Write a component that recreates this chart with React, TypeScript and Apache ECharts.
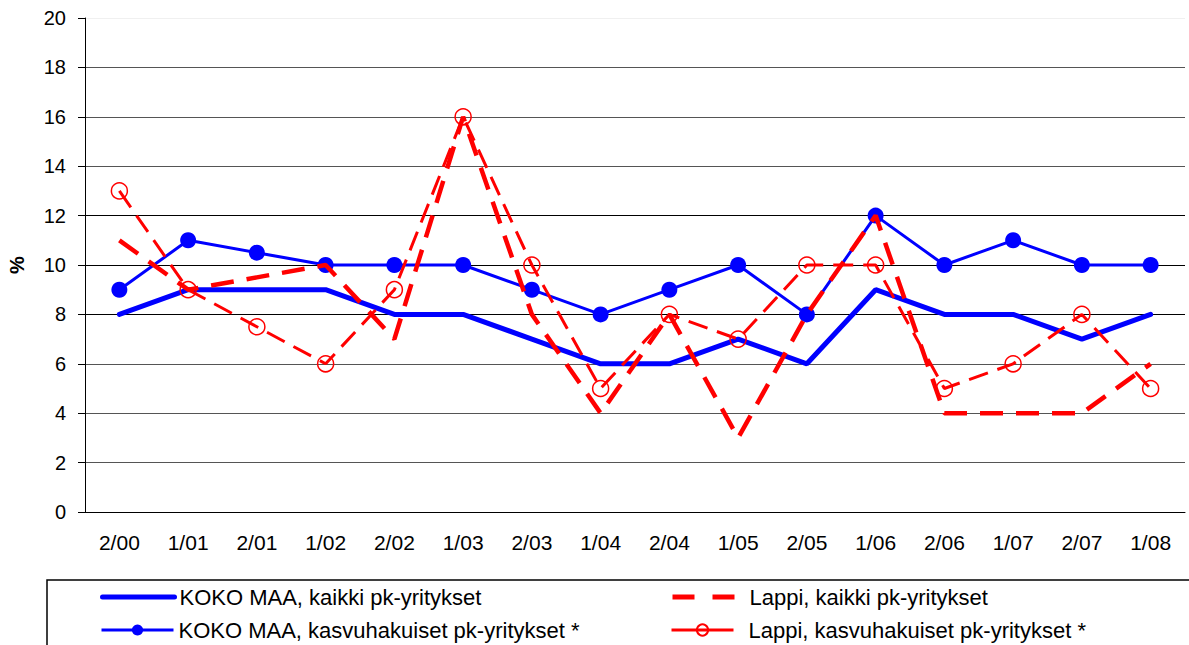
import React, { useEffect, useRef } from "react";
import * as echarts from "echarts";

const categories = ["2/00", "1/01", "2/01", "1/02", "2/02", "1/03", "2/03", "1/04", "2/04", "1/05", "2/05", "1/06", "2/06", "1/07", "2/07", "1/08"];
const kokoKaikki = [8, 9, 9, 9, 8, 8, 7, 6, 6, 7, 6, 9, 8, 8, 7, 8];
const kokoKasvu = [9, 11, 10.5, 10, 10, 10, 9, 8, 9, 10, 8, 12, 10, 11, 10, 10];
const lappiKaikki = [11, 9, 9.5, 10, 7, 16, 8, 4, 8, 3, 8, 12, 4, 4, 4, 6];
const lappiKasvu = [13, 9, 7.5, 6, 9, 16, 10, 5, 8, 7, 10, 10, 5, 6, 8, 5];
const names = [
  "KOKO MAA, kaikki pk-yritykset",
  "KOKO MAA, kasvuhakuiset pk-yritykset *",
  "Lappi, kaikki pk-yritykset",
  "Lappi, kasvuhakuiset pk-yritykset *",
];

const FONT = "Liberation Sans, Arial, sans-serif";

export default function App() {
  const ref = useRef<HTMLDivElement>(null);
  useEffect(() => {
    if (!ref.current) return;
    const chart = echarts.init(ref.current, null, { renderer: "svg" });
    const legendText = { fontSize: 22, color: "#000", fontFamily: FONT };
    const hidden = { color: "rgba(0,0,0,0)", borderWidth: 0, opacity: 0 };
    const mkLegend = (
      name: string,
      left: number,
      top: number,
      width: number,
      gap: number,
      noSymbol: boolean,
      lineStyle: any
    ) => ({
      data: [noSymbol ? { name, itemStyle: hidden, lineStyle } : { name, lineStyle }],
      orient: "horizontal",
      left,
      top,
      itemWidth: width,
      itemHeight: 14,
      itemGap: 4,
      padding: 0,
      textStyle: { ...legendText, padding: [0, 0, 0, gap - 5] },
      selectedMode: false,
    });
    chart.setOption({
      animation: false,
      backgroundColor: "#fff",
      textStyle: { fontFamily: FONT },
      grid: { left: 85, right: 4, top: 18, bottom: 133, containLabel: false, outerBoundsMode: "none" },
      graphic: [
        {
          type: "rect",
          shape: { x: 47, y: 580, width: 1200, height: 100 },
          style: { fill: "none", stroke: "#000", lineWidth: 1.5 },
          z: 0,
        },
      ],
      legend: [
        mkLegend(names[0], 100, 586, 72, 5, true, { width: 5, color: "#0000ff", type: "solid", cap: "round" }),
        mkLegend(names[1], 100, 619, 72, 5, false, { width: 3, color: "#0000ff", type: "solid" }),
        mkLegend(names[2], 670, 586, 62, 15, true, { width: 5, color: "#ff0000", type: [22, 18] }),
        mkLegend(names[3], 670, 619, 62, 15, false, { width: 3, color: "#ff0000", type: "solid" }),
      ],
      xAxis: {
        type: "category",
        data: categories,
        boundaryGap: true,
        axisTick: { show: false },
        axisLine: { lineStyle: { color: "#000", width: 1 } },
        axisLabel: { fontSize: 21, color: "#000", margin: 20, fontFamily: FONT },
      },
      yAxis: {
        type: "value",
        min: 0,
        max: 20,
        interval: 2,
        name: "%",
        nameLocation: "middle",
        nameGap: 58,
        nameRotate: 90,
        nameTextStyle: { fontSize: 20, fontWeight: "bold", color: "#000", fontFamily: FONT },
        axisLine: { show: true, lineStyle: { color: "#000", width: 1 } },
        axisTick: { show: true, length: 7, lineStyle: { color: "#000" } },
        axisLabel: { fontSize: 20, color: "#000", margin: 19, fontFamily: FONT },
        splitLine: {
          lineStyle: {
            color: ["#000", "#555", "#555", "#555", "#000", "#000", "#000", "#555", "#555", "#555", "#f0f0f0"],
            width: 1,
          },
        },
      },
      series: [
        {
          name: names[0],
          type: "line",
          data: kokoKaikki,
          symbol: "none",
          lineStyle: { color: "#0000ff", width: 5, cap: "round" },
          itemStyle: { color: "#0000ff" },
          z: 2,
        },
        {
          name: names[1],
          type: "line",
          data: kokoKasvu,
          symbol: "circle",
          symbolSize: 16,
          lineStyle: { color: "#0000ff", width: 3 },
          itemStyle: { color: "#0000ff" },
          z: 3,
        },
        {
          name: names[2],
          type: "line",
          data: lappiKaikki,
          symbol: "none",
          lineStyle: { color: "#ff0000", width: 4.5, type: [23, 13] },
          itemStyle: { color: "#ff0000" },
          z: 4,
        },
        {
          name: names[3],
          type: "line",
          data: lappiKasvu,
          symbol: "circle",
          symbolSize: 16,
          lineStyle: { color: "#ff0000", width: 3, type: [20, 10] },
          itemStyle: { color: "rgba(255,255,255,0)", borderColor: "#ff0000", borderWidth: 1.5 },
          z: 5,
        },
      ],
    });
    return () => chart.dispose();
  }, []);
  return <div ref={ref} style={{ position: "fixed", left: 0, top: 0, width: 1189, height: 645 }} />;
}
